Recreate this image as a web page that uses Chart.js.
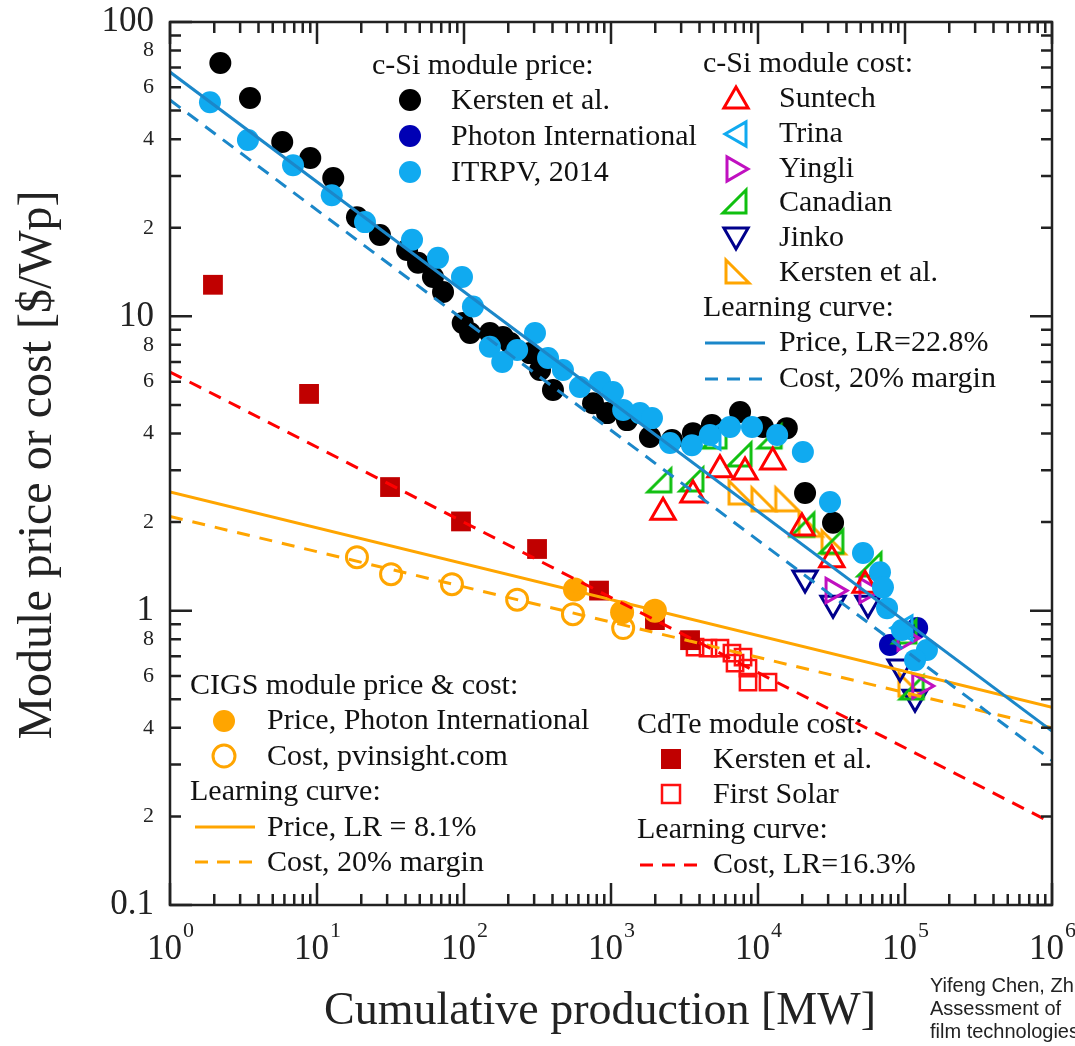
<!DOCTYPE html>
<html lang="en">
<head>
<meta charset="UTF-8">
<title>Module price and cost learning curves</title>
<script src="https://cdn.jsdelivr.net/npm/chart.js"></script>
<style>
  html, body { margin: 0; padding: 0; background: #fff; }
  #wrap { position: relative; width: 1075px; height: 1046px; }
</style>
</head>
<body>
<div id="wrap"><canvas id="lcChart"></canvas></div>
<script>
// values: [cumulative production MW, $/Wp]
const kerstenCSiPrice = [[2.2,72.6],[3.5,55.2],[5.8,39.1],[9.0,34.5],[12.9,29.5],[18.7,21.7],[26.8,18.9],[41,16.8],[48.7,15.2],[61.5,13.6],[72,12.1],[98,9.49],[110,8.78],[150,8.78],[184,8.51],[206,8.12],[281,7.5],[329,6.57],[403,5.62],[755,5.07],[940,4.69],[1285,4.44],[1840,3.89],[2600,3.8],[3610,4.01],[4860,4.27],[7550,4.73],[10800,4.21],[15700,4.17],[20900,2.51],[32400,1.99]];
const photonCSiPrice = [[79000,0.764],[121000,0.873]];
const itrpvPrice = [[1.87,53.4],[3.39,39.7],[6.87,32.6],[12.6,25.8],[21.2,20.9],[44.3,18.2],[66.5,15.8],[96.9,13.6],[115,10.8],[150,7.88],[182,7.0],[230,7.69],[304,8.78],[373,7.22],[471,6.57],[615,5.75],[842,5.98],[1030,5.53],[1210,4.81],[1575,4.69],[1900,4.51],[2520,3.71],[3550,3.65],[4710,3.95],[6450,4.21],[9100,4.21],[13500,3.95],[20200,3.46],[30900,2.34],[51800,1.57],[67600,1.35],[70800,1.2],[75500,1.02],[95400,0.859],[141000,0.735],[117000,0.679]];

const suntechCost = [[2260,2.16],[3610,2.47],[5510,3.01],[8160,2.96],[12600,3.2],[19900,1.91],[31800,1.49],[53500,1.22]];
const trinaCost = [[4940,3.89],[100000,0.873]];
const yingliCost = [[32400,1.17],[55100,1.17],[100000,0.807],[126000,0.555]];
const canadianCost = [[2150,2.76],[3550,2.78],[5100,3.89],[7550,3.38],[12100,3.89],[20200,1.95],[31800,1.71],[57800,1.43],[100000,0.846],[112000,0.546]];
const jinkoCost = [[20900,1.29],[32400,1.06],[56000,1.06],[92500,0.643],[117000,0.508]];
const kerstenCSiCost = [[7550,2.51],[10800,2.38],[15700,2.38],[22600,1.95],[32400,1.7],[108000,0.558]];

const cigsPrice = [[569,1.18],[1190,0.988],[1990,1.0]];
const cigsCost = [[18.7,1.52],[31.9,1.33],[82.8,1.23],[230,1.09],[551,0.973],[1210,0.873]];

const cdteKersten = [[1.96,12.8],[8.83,5.45],[31.4,2.63],[95.4,2.01],[314,1.62],[829,1.17],[1990,0.929],[3450,0.794]];
const firstSolar = [[3730,0.752],[4570,0.746],[5510,0.746],[6650,0.718],[7910,0.695],[6980,0.663],[8550,0.638],[8550,0.572],[11700,0.572]];

// learning curve end points (at 1 MW and 1 TW)
const cSiPriceFit = [[1,67.6],[1e6,0.39]];
const cSiCostFit = [[1,54.3],[1e6,0.31]];
const cdteCostFit = [[1,6.47],[1e6,0.19]];
const cigsPriceFit = [[1,2.53],[1e6,0.47]];
const cigsCostFit = [[1,2.09],[1e6,0.40]];

// axis ticks
const yLabelTicks = [0.1,0.2,0.4,0.6,0.8,1,2,4,6,8,10,20,40,60,80,100];
const xDecades = [0,1,2,3,4,5,6];

const SERIF = "'Liberation Serif', 'Times New Roman', serif";
const C = {
  fit: '#1b87c9', itrpv: '#10aaf0', photon: '#0000b4', black: '#000000',
  suntech: '#ff0000', trina: '#10aaf0', yingli: '#c010c0', canadian: '#10c010',
  jinko: '#00008c', orange: '#ffa500', cdte: '#c00000', fs: '#ff1010', red: '#ff0000'
};
const TRI = 14;

function pts(arr) { return arr.map(p => ({ x: p[0], y: p[1] })); }
function isMajor(v) { const l = Math.log10(v); return Math.abs(l - Math.round(l)) < 1e-6; }

// right-angle triangle markers (Canadian / Kersten cost)
function rightTri(color, mirrored) {
  const c = document.createElement('canvas');
  c.width = 32; c.height = 32;
  const g = c.getContext('2d');
  g.strokeStyle = color; g.lineWidth = 3; g.lineJoin = 'miter';
  g.beginPath();
  if (!mirrored) { g.moveTo(4, 27); g.lineTo(27, 27); g.lineTo(27, 4); }
  else { g.moveTo(5, 4); g.lineTo(5, 27); g.lineTo(28, 27); }
  g.closePath(); g.stroke();
  return c;
}
const canadianImg = rightTri(C.canadian, false);
const kerstenImg = rightTri(C.orange, true);

function fitLine(arr, color, dash) {
  return { data: pts(arr), showLine: true, borderColor: color, borderWidth: 3,
    borderDash: dash || [], pointRadius: 0, fill: false };
}
function dots(arr, color, r) {
  return { data: pts(arr), pointStyle: 'circle', pointRadius: r, backgroundColor: color,
    borderColor: color, borderWidth: 0, showLine: false };
}
function hollow(arr, color, style, r, rot) {
  return { data: pts(arr), pointStyle: style, pointRadius: r, pointRotation: rot || 0,
    backgroundColor: 'rgba(0,0,0,0)', borderColor: color, borderWidth: 3, showLine: false };
}

// first dataset is drawn on top
const datasets = [
  fitLine(cSiPriceFit, C.fit),
  fitLine(cSiCostFit, C.fit, [13, 9]),
  fitLine(cdteCostFit, C.red, [13, 9]),
  fitLine(cigsPriceFit, C.orange),
  fitLine(cigsCostFit, C.orange, [13, 10]),
  dots(cigsPrice, C.orange, 12),
  hollow(cigsCost, C.orange, 'circle', 10.5),
  dots(itrpvPrice, C.itrpv, 11),
  hollow(suntechCost, C.suntech, 'triangle', TRI),
  hollow(trinaCost, C.trina, 'triangle', TRI, -90),
  hollow(yingliCost, C.yingli, 'triangle', TRI, 90),
  { data: pts(canadianCost), pointStyle: canadianImg, pointRadius: 12, showLine: false },
  hollow(jinkoCost, C.jinko, 'triangle', TRI, 180),
  { data: pts(kerstenCSiCost), pointStyle: kerstenImg, pointRadius: 12, showLine: false },
  dots(photonCSiPrice, C.photon, 11),
  dots(kerstenCSiPrice, C.black, 11),
  { data: pts(cdteKersten), pointStyle: 'rect', pointRadius: 14, backgroundColor: C.cdte,
    borderWidth: 0, showLine: false },
  { data: pts(firstSolar), pointStyle: 'rect', pointRadius: 11.5, backgroundColor: 'rgba(0,0,0,0)',
    borderColor: C.fs, borderWidth: 2.5, showLine: false }
];

// legend marker drawing (same shapes as the plotted points)
function marker(ctx, kind, x, y, color, rot) {
  ctx.save();
  ctx.strokeStyle = color; ctx.fillStyle = color; ctx.lineWidth = 3;
  ctx.beginPath();
  if (kind === 'dot') { ctx.arc(x, y, 11, 0, Math.PI * 2); ctx.fill(); }
  else if (kind === 'ring') { ctx.arc(x, y, 11, 0, Math.PI * 2); ctx.stroke(); }
  else if (kind === 'sq') { ctx.fillRect(x - 10, y - 10, 20, 20); }
  else if (kind === 'sqo') { ctx.lineWidth = 2.5; ctx.strokeRect(x - 9, y - 9, 18, 18); }
  else if (kind === 'tri') {
    let a = (rot || 0) * Math.PI / 180;
    for (let i = 0; i < 3; i++) {
      const px = x + Math.sin(a) * TRI, py = y - Math.cos(a) * TRI;
      if (i === 0) ctx.moveTo(px, py); else ctx.lineTo(px, py);
      a += Math.PI * 2 / 3;
    }
    ctx.closePath(); ctx.stroke();
  } else if (kind === 'img') { ctx.drawImage(rot, x - 16, y - 16); }
  else if (kind === 'line' || kind === 'dash') {
    if (kind === 'dash') ctx.setLineDash([13, 9]);
    ctx.moveTo(x, y); ctx.lineTo(x + 60, y); ctx.stroke();
  }
  ctx.restore();
}

const decor = {
  id: 'decor',
  afterDraw(chart) {
    const ctx = chart.ctx, a = chart.chartArea;
    const xs = chart.scales.x, ys = chart.scales.y;
    ctx.save();
    ctx.strokeStyle = '#222'; ctx.lineWidth = 2.5;
    // inward ticks on all four sides
    ctx.beginPath();
    for (let e = 0; e <= 6; e++) {
      for (let m = 1; m <= 9; m++) {
        if (e === 6 && m > 1) break;
        const px = xs.getPixelForValue(m * Math.pow(10, e));
        const len = m === 1 ? 22 : 11;
        ctx.moveTo(px, a.bottom); ctx.lineTo(px, a.bottom - len);
        ctx.moveTo(px, a.top); ctx.lineTo(px, a.top + len);
      }
    }
    for (let e = -1; e <= 2; e++) {
      for (let m = 1; m <= 9; m++) {
        if (e === 2 && m > 1) break;
        const py = ys.getPixelForValue(m * Math.pow(10, e));
        const len = m === 1 ? 22 : 11;
        ctx.moveTo(a.left, py); ctx.lineTo(a.left + len, py);
        ctx.moveTo(a.right, py); ctx.lineTo(a.right - len, py);
      }
    }
    ctx.stroke();
    ctx.strokeRect(a.left, a.top, a.right - a.left, a.bottom - a.top);

    // x tick labels 10^n
    ctx.fillStyle = '#222'; ctx.textBaseline = 'alphabetic';
    xDecades.forEach(n => {
      const px = xs.getPixelForValue(Math.pow(10, n));
      ctx.font = '35px ' + SERIF;
      const w1 = ctx.measureText('10').width;
      ctx.font = '22px ' + SERIF;
      const w2 = ctx.measureText(String(n)).width;
      const x0 = px - (w1 + w2) / 2;
      ctx.font = '35px ' + SERIF; ctx.textAlign = 'left';
      ctx.fillText('10', x0, 959);
      ctx.font = '22px ' + SERIF;
      ctx.fillText(String(n), x0 + w1 + 1, 937);
    });

    // axis titles
    ctx.textAlign = 'center'; ctx.textBaseline = 'middle';
    ctx.font = '46px ' + SERIF;
    ctx.fillText('Cumulative production [MW]', 600, 1012);
    ctx.save();
    ctx.translate(38, 465); ctx.rotate(-Math.PI / 2);
    ctx.font = '48px ' + SERIF;
    ctx.fillText('Module price or cost [$/Wp]', 0, 0);
    ctx.restore();

    // legends
    ctx.font = '30px ' + SERIF; ctx.textAlign = 'left'; ctx.fillStyle = '#111';
    const txt = (s, x, y) => ctx.fillText(s, x, y);
    txt('c-Si module price:', 372, 66);
    marker(ctx, 'dot', 410, 100, C.black); txt('Kersten et al.', 451, 101);
    marker(ctx, 'dot', 410, 136, C.photon); txt('Photon International', 451, 137);
    marker(ctx, 'dot', 410, 172, C.itrpv); txt('ITRPV, 2014', 451, 173);

    txt('c-Si module cost:', 703, 64);
    marker(ctx, 'tri', 736, 101, C.suntech, 0); txt('Suntech', 779, 99);
    marker(ctx, 'tri', 739, 134, C.trina, -90); txt('Trina', 779, 134);
    marker(ctx, 'tri', 734, 169, C.yingli, 90); txt('Yingli', 779, 169);
    marker(ctx, 'img', 735, 202, null, canadianImg); txt('Canadian', 779, 203);
    marker(ctx, 'tri', 736, 235, C.jinko, 180); txt('Jinko', 779, 238);
    marker(ctx, 'img', 737, 272, null, kerstenImg); txt('Kersten et al.', 779, 273);
    txt('Learning curve:', 703, 308);
    marker(ctx, 'line', 705, 343, C.fit); txt('Price, LR=22.8%', 779, 343);
    marker(ctx, 'dash', 705, 379, C.fit); txt('Cost, 20% margin', 779, 379);

    txt('CIGS module price & cost:', 190, 686);
    marker(ctx, 'dot', 224, 721, C.orange); txt('Price, Photon International', 267, 721);
    marker(ctx, 'ring', 224, 756, C.orange); txt('Cost, pvinsight.com', 267, 757);
    txt('Learning curve:', 190, 792);
    marker(ctx, 'line', 195, 827, C.orange); txt('Price, LR = 8.1%', 267, 828);
    marker(ctx, 'dash', 195, 862, C.orange); txt('Cost, 20% margin', 267, 863);

    txt('CdTe module cost:', 637, 725);
    marker(ctx, 'sq', 671, 759, C.cdte); txt('Kersten et al.', 713, 760);
    marker(ctx, 'sqo', 671, 794, C.fs); txt('First Solar', 713, 795);
    txt('Learning curve:', 637, 830);
    marker(ctx, 'dash', 640, 865, C.red); txt('Cost, LR=16.3%', 713, 865);

    // source note, cut by the page edge
    ctx.font = '20px "Liberation Sans", Arial, sans-serif'; ctx.fillStyle = '#222';
    txt('Yifeng Chen, Zh', 930, 986);
    txt('Assessment of', 930, 1009);
    txt('film technologies', 930, 1032);
    ctx.restore();
  }
};

new Chart(document.getElementById('lcChart'), {
  type: 'scatter',
  data: { datasets: datasets },
  options: {
    responsive: true,
    maintainAspectRatio: false,
    animation: false,
    layout: { padding: { top: 22, right: 23, left: 0, bottom: 0 } },
    plugins: { legend: { display: false }, tooltip: { enabled: false } },
    scales: {
      x: {
        type: 'logarithmic', min: 1, max: 1e6,
        grid: { display: false }, border: { display: false },
        ticks: { display: false },
        afterFit(s) { s.height = 141; s.paddingLeft = 0; s.paddingRight = 0; }
      },
      y: {
        type: 'logarithmic', min: 0.1, max: 100,
        grid: { display: false, drawTicks: false }, border: { display: false },
        afterBuildTicks(s) { s.ticks = yLabelTicks.map(v => ({ value: v })); },
        ticks: {
          padding: 16, color: '#222', autoSkip: false,
          font: (c) => ({ family: SERIF, size: (c.tick && isMajor(c.tick.value)) ? 35 : 22 }),
          callback: (v) => isMajor(v) ? String(v) : String(Math.round(v / Math.pow(10, Math.floor(Math.log10(v) + 1e-9))))
        },
        afterFit(s) { s.width = 170; s.paddingTop = 0; s.paddingBottom = 0; }
      }
    }
  },
  plugins: [decor]
});
</script>
</body>
</html>
